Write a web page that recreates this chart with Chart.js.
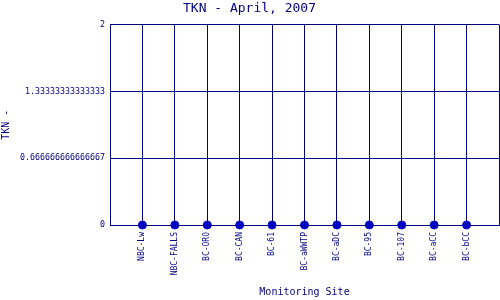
<!DOCTYPE html>
<html>
<head>
<meta charset="utf-8">
<script src="https://cdn.jsdelivr.net/npm/chart.js@4/dist/chart.umd.min.js"></script>
<style>
  html, body { margin: 0; padding: 0; background: #fff; }
  #wrap { width: 500px; height: 300px; }
</style>
</head>
<body>
<div id="wrap"><canvas id="chart" width="500" height="300"></canvas></div>
<script>
// Data
const sites = ['NBC-Lw', 'NBC-FALLS', 'BC-ORO', 'BC-CAN', 'BC-61', 'BC-aWWTP', 'BC-aDC', 'BC-95', 'BC-107', 'BC-aCC', 'BC-bCC'];
const tknValues = [0, 0, 0, 0, 0, 0, 0, 0, 0, 0, 0];
const yTicks = [0, 2 / 3, 4 / 3, 2];

const navy = '#000080';
const mono = 'DejaVu Sans Mono';

const points = sites.map((s, i) => ({ x: i, y: tknValues[i] }));

new Chart(document.getElementById('chart').getContext('2d'), {
    type: 'scatter',
    data: {
        datasets: [{
            data: points,
            clip: false,
            pointRadius: 4,
            pointHoverRadius: 4,
            pointBackgroundColor: '#0000c0',
            pointBorderColor: '#0000c0',
            showLine: false
        }]
    },
    options: {
        responsive: false,
        animation: false,
        layout: { autoPadding: false, padding: { top: 0, right: 1, bottom: 0, left: 0 } },
        plugins: {
            legend: { display: false },
            tooltip: { enabled: false },
            title: {
                display: true,
                text: 'TKN - April, 2007',
                color: navy,
                font: { family: mono, size: 13, weight: 'normal' },
                padding: { top: 1, bottom: 8 }
            }
        },
        scales: {
            x: {
                type: 'linear',
                min: -1,
                max: sites.length,
                afterBuildTicks: scale => {
                    const t = [];
                    for (let v = -1; v <= sites.length; v++) t.push({ value: v });
                    scale.ticks = t;
                },
                afterFit: scale => {
                    scale.height = 75;
                    scale.paddingLeft = 0;
                    scale.paddingRight = 0;
                },
                grid: { color: navy, lineWidth: 1, drawTicks: false },
                border: { color: navy, width: 1 },
                ticks: {
                    autoSkip: false,
                    maxRotation: 90,
                    minRotation: 90,
                    padding: 7,
                    color: navy,
                    font: { family: mono, size: 8 },
                    callback: v => sites[v] || ''
                },
                title: {
                    display: true,
                    text: 'Monitoring Site',
                    color: navy,
                    font: { family: mono, size: 10 },
                    padding: { top: 0, bottom: 2 }
                }
            },
            y: {
                min: 0,
                max: 2,
                afterBuildTicks: scale => { scale.ticks = yTicks.map(v => ({ value: v })); },
                afterFit: scale => {
                    scale.width = 110;
                    scale.paddingTop = 0;
                    scale.paddingBottom = 0;
                },
                grid: { color: navy, lineWidth: 1, drawTicks: false },
                border: { color: navy, width: 1 },
                ticks: {
                    padding: 5,
                    color: navy,
                    font: { family: mono, size: 8.3 },
                    callback: v => String(parseFloat(v.toPrecision(15)))
                },
                title: {
                    display: true,
                    text: 'TKN -',
                    color: navy,
                    font: { family: mono, size: 10 },
                    padding: { top: 0, bottom: 0 }
                }
            }
        }
    }
});
</script>
</body>
</html>
